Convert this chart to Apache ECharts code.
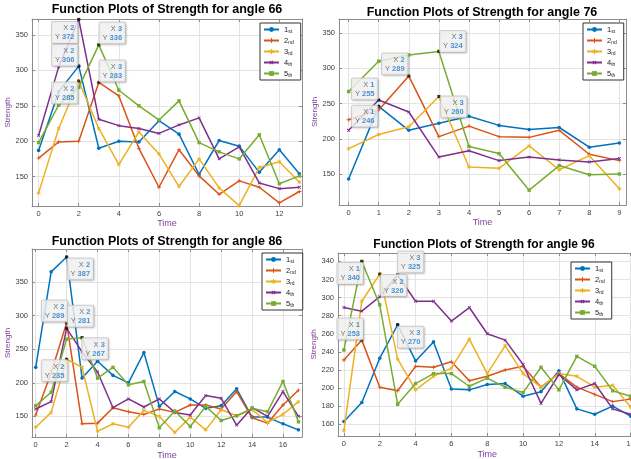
<!DOCTYPE html>
<html>
<head>
<meta charset="utf-8">
<script src="https://cdn.jsdelivr.net/npm/echarts@6/dist/echarts.min.js"></script>
<style>
  html, body { margin: 0; padding: 0; background: #fff; }
  #chart { width: 631px; height: 459px; }
</style>
</head>
<body>
<div id="chart"></div>
<script>
// Strength readings for five repetitions, recorded over time at four angles.
const seriesNames = ['1st', '2nd', '3rd', '4th', '5th'];

const time66 = [0, 1, 2, 3, 4, 5, 6, 7, 8, 9, 10, 11, 12, 13];
const angle66_1st = [187, 270, 306, 190, 200, 199, 229, 210, 153, 201, 193, 156, 188, 154];
const angle66_2nd = [176, 199, 200, 283, 264, 190, 135, 188, 151, 125, 144, 135, 113, 129];
const angle66_3rd = [127, 218, 285, 218, 167, 213, 182, 136, 175, 134, 109, 163, 171, 142];
const angle66_4th = [208, 305, 372, 231, 222, 218, 211, 223, 233, 175, 192, 141, 133, 135];
const angle66_5th = [198, 251, 276, 336, 272, 250, 230, 257, 198, 185, 175, 209, 140, 151];

const time76 = [0, 1, 2, 3, 4, 5, 6, 7, 8, 9];
const angle76_1st = [143, 246, 212, 222, 232, 219, 213, 216, 188, 194];
const angle76_2nd = [227, 241, 289, 203, 218, 203, 202, 212, 178, 169];
const angle76_3rd = [186, 206, 217, 260, 160, 158, 190, 156, 176, 129];
const angle76_4th = [212, 255, 238, 174, 183, 169, 174, 170, 167, 172];
const angle76_5th = [267, 310, 319, 324, 189, 179, 127, 162, 149, 150];

const time86 = [0, 1, 2, 3, 4, 5, 6, 7, 8, 9, 10, 11, 12, 13, 14, 15, 16, 17];
const angle86_1st = [223, 365, 387, 207, 232, 211, 200, 245, 165, 187, 176, 162, 166, 191, 149, 149, 139, 130];
const angle86_2nd = [152, 215, 289, 139, 140, 163, 157, 153, 161, 156, 167, 167, 161, 187, 148, 140, 167, 189];
const angle86_3rd = [134, 156, 235, 223, 128, 139, 134, 159, 150, 126, 149, 130, 160, 151, 160, 141, 153, 172];
const angle86_4th = [161, 172, 281, 246, 216, 163, 176, 164, 176, 156, 152, 181, 177, 137, 163, 150, 187, 150];
const angle86_5th = [166, 186, 265, 267, 207, 223, 197, 202, 133, 158, 135, 165, 144, 151, 162, 157, 202, 142];

const time96 = [0, 1, 2, 3, 4, 5, 6, 7, 8, 9, 10, 11, 12, 13, 14, 15, 16];
const angle96_1st = [163, 184, 233, 270, 230, 251, 199, 198, 204, 205, 191, 196, 219, 177, 171, 180, 169];
const angle96_2nd = [231, 253, 201, 197, 224, 223, 229, 208, 213, 220, 224, 201, 216, 201, 193, 185, 188];
const angle96_3rd = [153, 296, 326, 232, 198, 213, 222, 254, 216, 247, 216, 201, 216, 213, 201, 203, 179];
const angle96_4th = [289, 285, 301, 325, 296, 296, 274, 289, 260, 253, 226, 183, 215, 198, 205, 177, 171];
const angle96_5th = [242, 340, 292, 182, 205, 216, 216, 202, 211, 201, 195, 223, 198, 235, 224, 197, 191];

// Data tips: [repetition index, time index]
const tips66 = [[3, 2], [0, 2], [2, 2], [4, 3], [1, 3]];
const tips76 = [[4, 3], [1, 2], [3, 1], [0, 1], [2, 3]];
const tips86 = [[0, 2], [1, 2], [3, 2], [4, 3], [2, 2]];
const tips96 = [[4, 1], [3, 3], [2, 2], [1, 1], [0, 3]];

const FONT = '"Liberation Sans", Arial, Helvetica, sans-serif';
const COLORS = ['#0072BD', '#D95319', '#EDB120', '#7E2F8E', '#77AC30'];
const AXIS_COLOR = '#8c8c8c';
const LABEL_PURPLE = '#7E3F98';

const PLUS = 'path://M4,0H6V4H10V6H6V10H4V6H0V4H4Z';
const STAR = 'path://M4,0H6V3.3L8.6,1.3L9.7,2.7L7,5L9.7,7.3L8.6,8.7L6,6.7V10H4V6.7L1.4,8.7L0.3,7.3L3,5L0.3,2.7L1.4,1.3L4,3.3Z';
const MARKERS = [
  { symbol: 'circle', size: 3.6, rotate: 0 },
  { symbol: PLUS, size: 4, rotate: 0 },
  { symbol: STAR, size: 4, rotate: 0 },
  { symbol: PLUS, size: 4, rotate: 45 },
  { symbol: 'rect', size: 3.4, rotate: 0 }
];

const panels = [
  {
    title: 'Function Plots of Strength for angle 66', titleX: 167, titleY: 3, titleSize: 12.5,
    time: time66, values: [angle66_1st, angle66_2nd, angle66_3rd, angle66_4th, angle66_5th],
    grid: { left: 32, top: 19, width: 270, height: 187 },
    x: [-0.33, 13.13, 2], y: [108.5, 372.6, 50], xGap: 13, yGap: 15,
    legend: { left: 260, top: 23 },
    tips: tips66, tipOffsets: [[-14, 13], [-14, -11], [-14, 12], [13.5, -12], [13.5, -11.5]]
  },
  {
    title: 'Function Plots of Strength for angle 76', titleX: 482, titleY: 6, titleSize: 12.5,
    time: time76, values: [angle76_1st, angle76_2nd, angle76_3rd, angle76_4th, angle76_5th],
    grid: { left: 339, top: 19, width: 287, height: 186 },
    x: [-0.32, 9.22, 1], y: [106, 370, 50], xGap: 12, yGap: 16,
    legend: { left: 583, top: 23 },
    tips: tips76, tipOffsets: [[14, -10], [-14, -12], [-14, -11], [-14, 10], [15, 10.5]]
  },
  {
    title: 'Function Plots of Strength for angle 86', titleX: 167, titleY: 235, titleSize: 12.5,
    time: time86, values: [angle86_1st, angle86_2nd, angle86_3rd, angle86_4th, angle86_5th],
    grid: { left: 32, top: 249, width: 270, height: 188 },
    x: [-0.24, 17.23, 2], y: [119.4, 399, 50], xGap: 14, yGap: 15,
    legend: { left: 262, top: 253 },
    tips: tips86, tipOffsets: [[13.7, 12], [-12, -12], [14, -12], [13, 11], [-12, 11.5]]
  },
  {
    title: 'Function Plots of Strength for angle 96', titleX: 484, titleY: 239, titleSize: 12,
    time: time96, values: [angle96_1st, angle96_2nd, angle96_3rd, angle96_4th, angle96_5th],
    grid: { left: 338, top: 253, width: 298.5, height: 183 },
    x: [-0.33, 16.33, 2], y: [147, 349.3, 20], xGap: 14, yGap: 16,
    legend: { left: 571, top: 262 },
    tips: tips96, tipOffsets: [[-11.6, 12], [13, -13], [14, 11.5], [-11.6, -11], [13, 12.5]]
  }
];

function tickFormatter(step) {
  return function (v) {
    const r = Math.round(v / step) * step;
    return Math.abs(v - r) < 1e-6 ? String(r) : '';
  };
}

// Right-align the shorter line of a tip with figure spaces (one digit wide each)
function tipText(t, v) {
  const xs = String(t), ys = String(v);
  const diff = Math.max(0, ys.length - xs.length);
  const pad = '\u2007'.repeat(diff);
  return pad + '{a|X} {b|' + xs + '}\n{a|Y} {b|' + ys + '}';
}

const option = {
  backgroundColor: '#fff',
  animation: false,
  title: [], grid: [], xAxis: [], yAxis: [], legend: [], series: []
};

panels.forEach((p, gi) => {
  option.title.push({
    text: p.title, left: p.titleX, top: p.titleY, textAlign: 'center', padding: 0,
    textStyle: { fontFamily: FONT, fontSize: p.titleSize, fontWeight: 'bold', color: '#000' }
  });
  option.grid.push(Object.assign({ containLabel: false, outerBoundsMode: 'none' }, p.grid));

  const tickStyle = { inside: true, length: 3, lineStyle: { color: AXIS_COLOR, width: 1 } };
  const lineStyle = { show: true, onZero: false, lineStyle: { color: AXIS_COLOR, width: 1 } };
  const split = { show: true, lineStyle: { color: '#e4e4e4', width: 1 } };

  const xBase = { type: 'value', gridIndex: gi, min: p.x[0], max: p.x[1], minInterval: p.x[2], maxInterval: p.x[2] };
  const yBase = { type: 'value', gridIndex: gi, min: p.y[0], max: p.y[1], minInterval: p.y[2], maxInterval: p.y[2] };

  option.xAxis.push(Object.assign({}, xBase, {
    position: 'bottom', axisLine: lineStyle, axisTick: tickStyle, splitLine: split,
    axisLabel: { formatter: tickFormatter(p.x[2]), fontFamily: FONT, fontSize: 7.5, color: '#404040', margin: 4 },
    name: 'Time', nameLocation: 'middle', nameGap: p.xGap,
    nameTextStyle: { fontFamily: FONT, fontSize: 9, color: LABEL_PURPLE }
  }));
  option.xAxis.push(Object.assign({}, xBase, {
    position: 'top', axisLine: lineStyle, axisTick: tickStyle, splitLine: { show: false }, axisLabel: { show: false }
  }));
  option.yAxis.push(Object.assign({}, yBase, {
    position: 'left', axisLine: lineStyle, axisTick: tickStyle, splitLine: split,
    axisLabel: { formatter: tickFormatter(p.y[2]), fontFamily: FONT, fontSize: 7.5, color: '#404040', margin: 4 },
    name: 'Strength', nameLocation: 'middle', nameGap: p.yGap,
    nameTextStyle: { fontFamily: FONT, fontSize: 8, color: LABEL_PURPLE }
  }));
  option.yAxis.push(Object.assign({}, yBase, {
    position: 'right', axisLine: lineStyle, axisTick: tickStyle, splitLine: { show: false }, axisLabel: { show: false }
  }));

  const xIdx = gi * 2, yIdx = gi * 2;

  p.values.forEach((vals, si) => {
    const m = MARKERS[si];
    option.series.push({
      type: 'line', name: seriesNames[si], xAxisIndex: xIdx, yAxisIndex: yIdx,
      data: vals.map((v, i) => [p.time[i], v]),
      symbol: m.symbol, symbolSize: m.size, symbolRotate: m.rotate, showSymbol: true,
      itemStyle: { color: COLORS[si] },
      lineStyle: { color: COLORS[si], width: 1.5 },
      z: 2 + si
    });
  });

  // Data tips marking selected readings
  option.series.push({
    type: 'scatter', name: 'tips' + gi, xAxisIndex: xIdx, yAxisIndex: yIdx,
    symbol: 'rect', symbolSize: 3, itemStyle: { color: '#111' }, z: 20,
    data: p.tips.map(([si, ti], k) => {
      const v = p.values[si][ti];
      const t = p.time[ti];
      return {
        value: [t, v],
        label: { show: true, position: 'inside', offset: p.tipOffsets[k], formatter: tipText(t, v) }
      };
    }),
    label: {
      show: true, align: 'center', verticalAlign: 'middle',
      fontFamily: FONT, fontSize: 7.5, lineHeight: 9,
      backgroundColor: '#f6f6f6', borderColor: '#c4c4c4', borderWidth: 1, borderRadius: 1,
      padding: [2, 3, 1, 3], shadowBlur: 2, shadowColor: 'rgba(0,0,0,0.15)', shadowOffsetX: 1, shadowOffsetY: 1,
      rich: {
        a: { fontFamily: FONT, fontSize: 7.5, color: '#555', lineHeight: 9 },
        b: { fontFamily: FONT, fontSize: 7.5, color: '#1f78c8', fontWeight: 'bold', lineHeight: 9 }
      }
    }
  });

  option.legend.push({
    data: seriesNames, orient: 'vertical', left: p.legend.left, top: p.legend.top,
    padding: [2, 7, 2, 3], itemGap: 2, itemWidth: 15, itemHeight: 6,
    backgroundColor: '#fff', borderColor: '#333', borderWidth: 1, borderRadius: 0,
    selectedMode: false,
    formatter: name => name.charAt(0) + '{s|' + name.slice(1) + '}',
    textStyle: {
      fontFamily: FONT, fontSize: 7.5, color: '#222', lineHeight: 9,
      rich: { s: { fontFamily: FONT, fontSize: 5, color: '#222', verticalAlign: 'bottom', lineHeight: 6 } }
    }
  });
});

const chart = echarts.init(document.getElementById('chart'), null, { renderer: 'canvas' });
chart.setOption(option);
</script>
</body>
</html>
